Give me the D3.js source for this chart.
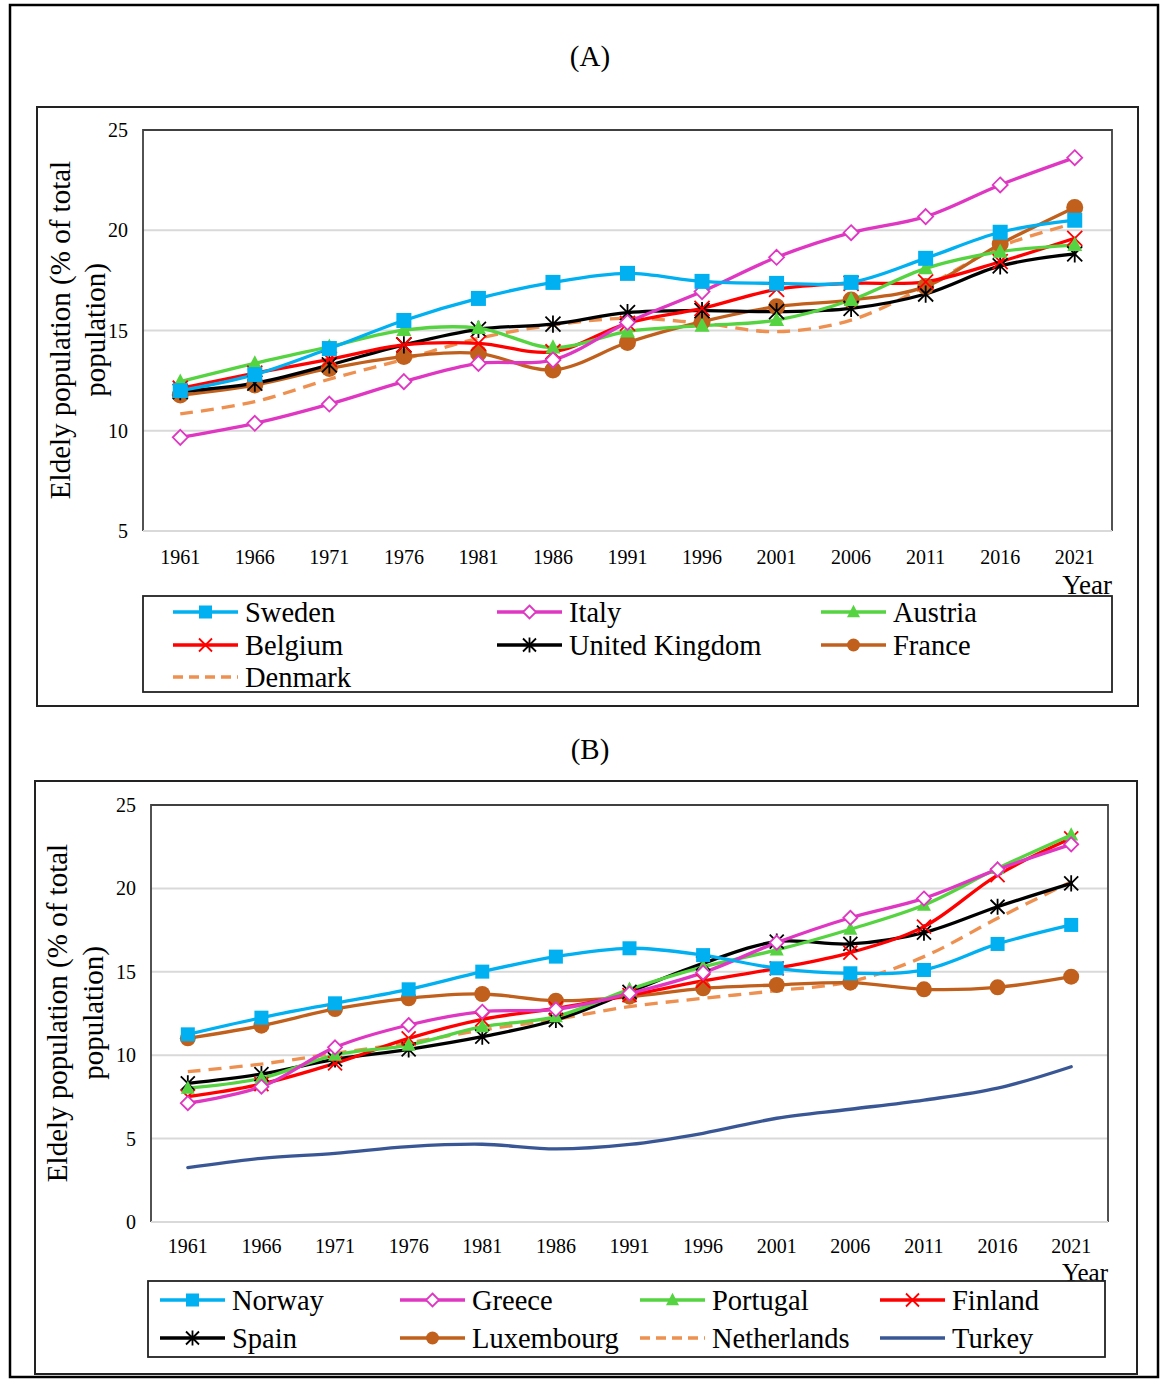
<!DOCTYPE html>
<html><head><meta charset="utf-8">
<script src="https://cdn.jsdelivr.net/npm/d3@7"></script>
<style>body{margin:0;background:#fff}svg{display:block}text{font-family:"Liberation Serif","Times New Roman",serif;fill:#000}</style>
</head><body><svg id="c" width="1165" height="1380"></svg>
<script>
// ---------- data ----------
const years = ["1961","1966","1971","1976","1981","1986","1991","1996","2001","2006","2011","2016","2021"];
const yTicksA = [5,10,15,20,25];
const yTicksB = [0,5,10,15,20,25];

// Panel A
const sweden  = [12.0,12.8,14.1,15.5,16.6,17.4,17.85,17.45,17.35,17.4,18.6,19.9,20.5];
const italy   = [9.67,10.37,11.33,12.45,13.36,13.53,15.4,16.94,18.65,19.88,20.68,22.26,23.62];
const austria = [12.45,13.36,14.19,15.02,15.12,14.15,14.95,15.24,15.52,16.52,18.1,18.93,19.26];
const belgium = [12.12,12.87,13.56,14.28,14.36,13.94,15.36,16.1,17.05,17.35,17.43,18.43,19.6];
const uk      = [11.95,12.37,13.28,14.28,15.06,15.32,15.89,15.99,15.94,16.1,16.82,18.22,18.82];
const france  = [11.78,12.28,13.11,13.7,13.86,13.03,14.4,15.44,16.19,16.52,17.19,19.31,21.14];
const denmark = [10.84,11.45,12.57,13.56,14.61,15.27,15.61,15.36,14.94,15.52,17.2,19.18,20.35];

// Panel B
const norway      = [11.25,12.25,13.11,13.95,15.01,15.91,16.41,16.0,15.21,14.91,15.11,16.67,17.81];
const greece      = [7.12,8.11,10.47,11.81,12.61,12.75,13.7,14.95,16.75,18.24,19.4,21.14,22.64];
const portugal    = [8.02,8.62,10.01,10.61,11.71,12.31,13.95,15.3,16.31,17.55,19.0,21.2,23.2];
const finland     = [7.51,8.27,9.51,11.01,12.15,12.81,13.6,14.45,15.21,16.15,17.71,20.8,23.0];
const spain       = [8.31,8.87,9.75,10.35,11.11,12.11,13.8,15.51,16.81,16.67,17.35,18.9,20.3];
const luxembourg  = [11.01,11.77,12.77,13.41,13.67,13.27,13.51,14.01,14.21,14.35,13.95,14.07,14.71];
const netherlands = [9.01,9.47,10.11,10.75,11.51,12.15,12.91,13.41,13.87,14.41,15.91,18.21,20.4];
const turkey      = [3.26,3.82,4.12,4.52,4.66,4.38,4.65,5.32,6.22,6.76,7.31,8.02,9.31];

// ---------- styles ----------
const C = {blue:"#00b0f0", mag:"#df37c2", green:"#55d340", red:"#ff0000", black:"#000000",
           brown:"#c0601c", orange:"#ee9050", navy:"#3a5795"};

const seriesA = [
  {name:"Sweden", data:sweden, color:C.blue, marker:"square"},
  {name:"Italy", data:italy, color:C.mag, marker:"diamond"},
  {name:"Austria", data:austria, color:C.green, marker:"triangle"},
  {name:"Belgium", data:belgium, color:C.red, marker:"x"},
  {name:"United Kingdom", data:uk, color:C.black, marker:"star"},
  {name:"France", data:france, color:C.brown, marker:"circle"},
  {name:"Denmark", data:denmark, color:C.orange, marker:null, dash:"13,8"}
];
const seriesB = [
  {name:"Norway", data:norway, color:C.blue, marker:"square"},
  {name:"Greece", data:greece, color:C.mag, marker:"diamond"},
  {name:"Portugal", data:portugal, color:C.green, marker:"triangle"},
  {name:"Finland", data:finland, color:C.red, marker:"x"},
  {name:"Spain", data:spain, color:C.black, marker:"star"},
  {name:"Luxembourg", data:luxembourg, color:C.brown, marker:"circle"},
  {name:"Netherlands", data:netherlands, color:C.orange, marker:null, dash:"13,8"},
  {name:"Turkey", data:turkey, color:C.navy, marker:null}
];

const svg = d3.select("#c");

function drawMarker(g, type, x, y, s, color){
  const h = s/2;
  if(type==="square"){
    g.append("rect").attr("x",x-h).attr("y",y-h).attr("width",s).attr("height",s).attr("fill",color);
  } else if(type==="diamond"){
    g.append("path").attr("d",`M${x},${y-h}L${x+h},${y}L${x},${y+h}L${x-h},${y}Z`)
      .attr("fill","#fff").attr("stroke",color).attr("stroke-width",1.8);
  } else if(type==="triangle"){
    g.append("path").attr("d",`M${x},${y-h*1.1}L${x+h},${y+h*0.8}L${x-h},${y+h*0.8}Z`).attr("fill",color);
  } else if(type==="x"){
    g.append("path").attr("d",`M${x-h},${y-h}L${x+h},${y+h}M${x-h},${y+h}L${x+h},${y-h}`)
      .attr("stroke",color).attr("stroke-width",1.8);
  } else if(type==="star"){
    g.append("path").attr("d",`M${x-h},${y-h}L${x+h},${y+h}M${x-h},${y+h}L${x+h},${y-h}M${x},${y-h*1.15}L${x},${y+h*1.15}`)
      .attr("stroke",color).attr("stroke-width",1.8);
  } else if(type==="circle"){
    g.append("circle").attr("cx",x).attr("cy",y).attr("r",h).attr("fill",color);
  }
}

function panel(cfg){
  const {frame, plot, title, series, yTicks, yDomain, label, legend, msize} = cfg;
  svg.append("rect").attr("x",frame[0]).attr("y",frame[1]).attr("width",frame[2]-frame[0]).attr("height",frame[3]-frame[1])
    .attr("fill","#fff").attr("stroke","#222").attr("stroke-width",2);
  svg.append("text").attr("x",title[1]).attr("y",title[2]).attr("text-anchor","middle")
    .style("font-size","29px").text(title[0]);

  const x = d3.scalePoint().domain(years).range([plot.l, plot.r]).padding(0.5);
  const y = d3.scaleLinear().domain(yDomain).range([plot.b, plot.t]);

  const g = svg.append("g");
  g.selectAll("line.grid").data(yTicks).join("line")
    .attr("x1",plot.l).attr("x2",plot.r).attr("y1",d=>y(d)).attr("y2",d=>y(d))
    .attr("stroke","#d9d9d9").attr("stroke-width",2);
  g.append("path").attr("d",`M${plot.l},${plot.b}L${plot.l},${plot.t}L${plot.r},${plot.t}L${plot.r},${plot.b}`)
    .attr("fill","none").attr("stroke","#404040").attr("stroke-width",1.8);

  g.selectAll("text.yt").data(yTicks).join("text")
    .attr("x",plot.l-15).attr("y",d=>y(d)+7).attr("text-anchor","end").style("font-size","20px").text(d=>d);
  g.selectAll("text.xt").data(years).join("text")
    .attr("x",d=>x(d)).attr("y",cfg.xLabelY).attr("text-anchor","middle").style("font-size","20px").text(d=>d);
  g.append("text").attr("x",cfg.yearPos[0]).attr("y",cfg.yearPos[1]).attr("text-anchor","end")
    .style("font-size",cfg.yearSize).text("Year");
  const yl = g.append("g");
  yl.append("text").attr("transform",`translate(${label.x1},${label.cy}) rotate(-90)`).attr("text-anchor","middle")
    .attr("dy","0.35em").style("font-size","29px").text("Eldely population (% of total");
  yl.append("text").attr("transform",`translate(${label.x2},${label.cy}) rotate(-90)`).attr("text-anchor","middle")
    .attr("dy","0.35em").style("font-size","29px").text("population)");

  const line = d3.line().x((d,i)=>x(years[i])).y(d=>y(d)).curve(d3.curveCatmullRom.alpha(0.5));
  const ordered = series.slice().reverse();
  ordered.forEach(s=>{
    g.append("path").attr("d",line(s.data)).attr("fill","none").attr("stroke",s.color)
      .attr("stroke-width",3.3).attr("stroke-dasharray",s.dash||null).attr("stroke-linecap",s.dash?"butt":"round");
  });
  ordered.forEach(s=>{
    if(!s.marker) return;
    const mg = g.append("g");
    s.data.forEach((v,i)=>drawMarker(mg, s.marker, x(years[i]), y(v), s.marker==="circle"?msize+2:msize, s.color));
  });
  g.append("line").attr("x1",plot.l).attr("x2",plot.r).attr("y1",plot.b).attr("y2",plot.b)
    .attr("stroke","#d9d9d9").attr("stroke-width",2);

  const lb = legend.box;
  const lg = svg.append("g");
  lg.append("rect").attr("x",lb[0]).attr("y",lb[1]).attr("width",lb[2]-lb[0]).attr("height",lb[3]-lb[1])
    .attr("fill","#fff").attr("stroke","#222").attr("stroke-width",1.8);
  series.forEach((s,i)=>{
    const col = i % legend.cols.length, row = Math.floor(i/legend.cols.length);
    const lx = legend.cols[col], ly = legend.rows[row];
    lg.append("line").attr("x1",lx).attr("x2",lx+65).attr("y1",ly).attr("y2",ly).attr("stroke",s.color)
      .attr("stroke-width",3.3).attr("stroke-dasharray",s.dash?"10,6":null);
    if(s.marker) drawMarker(lg, s.marker, lx+32.5, ly, 13, s.color);
    lg.append("text").attr("x",lx+72).attr("y",ly).attr("dy","0.35em").style("font-size","28.5px").text(s.name);
  });
}

svg.append("rect").attr("x",10).attr("y",5).attr("width",1148).attr("height",1372)
  .attr("fill","#fff").attr("stroke","#000").attr("stroke-width",2.5);

panel({
  frame:[37,107,1138,706], title:["(A)",590,66],
  plot:{l:143,r:1112,t:130,b:531}, yDomain:[5,25], yTicks:yTicksA, series:seriesA,
  xLabelY:564, yearPos:[1112,594], yearSize:"27px", label:{x1:60,x2:95,cy:330}, msize:15,
  legend:{box:[143,596,1112,692], cols:[173,497,821], rows:[612,645,677]}
});
panel({
  frame:[35,781,1137,1374], title:["(B)",590,759],
  plot:{l:151,r:1108,t:805,b:1222}, yDomain:[0,25], yTicks:yTicksB, series:seriesB,
  xLabelY:1253, yearPos:[1108,1281], yearSize:"25px", label:{x1:57,x2:93,cy:1013}, msize:14,
  legend:{box:[148,1281,1105,1357], cols:[160,400,640,880], rows:[1300,1338]}
});
</script></body></html>
